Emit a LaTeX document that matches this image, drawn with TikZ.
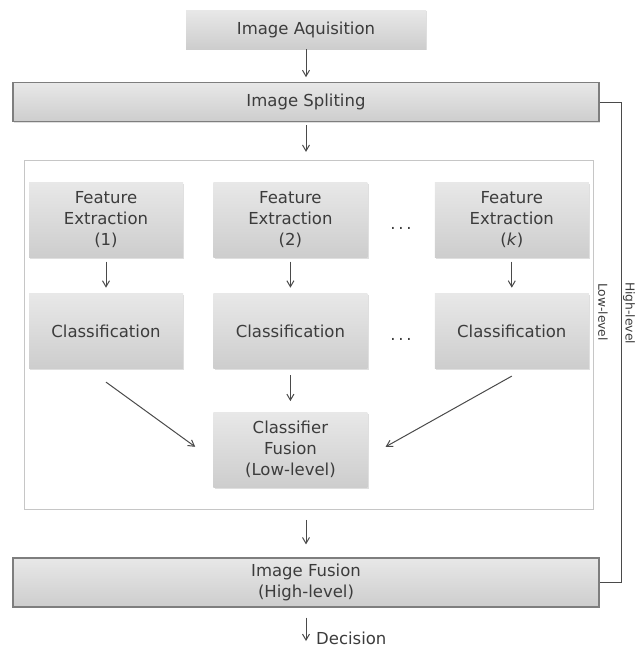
\documentclass[tikz,border=0pt]{standalone}
\usepackage{fontspec}
\setmainfont{DejaVu Sans}
\usetikzlibrary{positioning,fit,arrows.meta,calc,shadows}
\definecolor{txtgray}{HTML}{3C3C3C}
\definecolor{boxtop}{HTML}{E8E8E8}
\definecolor{boxbot}{HTML}{CDCDCD}
\definecolor{framedark}{HTML}{7E7E7E}
\definecolor{arrgray}{HTML}{4A4A4A}

\begin{document}
\begin{tikzpicture}[
    x=1pt, y=-1pt,
    font=\fontsize{16.5}{21}\selectfont,
    box/.style={rectangle, top color=boxtop, bottom color=boxbot, text=txtgray, align=center,
                minimum width=154pt, minimum height=75pt, inner sep=2pt,
                drop shadow={shadow xshift=1.2pt, shadow yshift=-1.2pt, opacity=0.25}},
    wide/.style={box, draw=framedark, line width=1.2pt, minimum width=586pt, minimum height=39pt},
    frame/.style={draw=gray!45, line width=0.8pt, inner xsep=4pt, inner ysep=22pt},
    side/.style={text=txtgray, font=\fontsize{12.3}{14}\selectfont, rotate=-90, inner sep=0pt},
    dots/.style={text=txtgray, inner sep=0pt, yshift=-8pt},
    arr/.style={draw=arrgray, line width=1pt, -{Straight Barb[length=6pt, width=7pt]}},
    link/.style={draw=arrgray, line width=1.3pt}
  ]
  \useasboundingbox (0,0) rectangle (640,649);

  % acquisition and splitting
  \node[box, minimum width=240pt, minimum height=39pt] (acq) at (306,29.5) {Image Aquisition};
  \node[wide, below=33pt of acq] (split) {Image Spliting};

  % feature extraction
  \node[box] (fe1) at (106,220) {Feature\\Extraction\\(1)};
  \node[box, right=30pt of fe1] (fe2) {Feature\\Extraction\\(2)};
  \node[box, right=67pt of fe2] (fek) {Feature\\Extraction\\(\textit{k})};

  % classification
  \foreach \i in {1,2,k}
    \node[box, below=36pt of fe\i] (cl\i) {Classification};
  \node[dots] (d1) at ($(fe2.east)!0.5!(fek.west)$) {.\,.\,.};
  \node[dots] (d2) at ($(cl2.east)!0.5!(clk.west)$) {.\,.\,.};

  % low-level fusion
  \node[box, below=43pt of cl2] (fus) {Classifier\\Fusion\\(Low-level)};
  \node[frame, fit=(fe1)(fek)(fus)] (frame) {};
  \node[side] (low) at (603,312) {Low-level};

  % high-level fusion
  \node[wide, minimum height=49pt] (fusion) at (306,582.5) {Image Fusion\\(High-level)};
  \node[text=txtgray, anchor=base west, inner sep=0pt] (dec) at (316,644) {Decision};
  \node[side] (high) at (629,313) {High-level};

  \draw[arr, shorten >=5pt] (acq) -- (split);
  \draw[arr, shorten <=3pt, shorten >=8pt] (split.south) -- (split.south |- frame.north);
  \foreach \i in {1,2,k}
    \draw[arr, shorten <=4pt, shorten >=6pt] (fe\i) -- (cl\i);
  \draw[arr, shorten <=6pt, shorten >=11pt] (cl2) -- (fus);
  \draw[arr] ([yshift=-13pt]cl1.south) -- ([xshift=-18pt, yshift=3pt]fus.west);
  \draw[arr] ([yshift=-7pt]clk.south) -- ([xshift=18pt, yshift=3pt]fus.east);
  \draw[arr, shorten <=10pt, shorten >=13pt] (fusion.north |- frame.south) -- (fusion.north);
  \draw[arr, shorten <=10pt, shorten >=3pt] (fusion.south) -- (fusion.south |- dec.base);
  \draw[link] (split.east) -- ++(22,0) |- (fusion.east);
\end{tikzpicture}
\end{document}
